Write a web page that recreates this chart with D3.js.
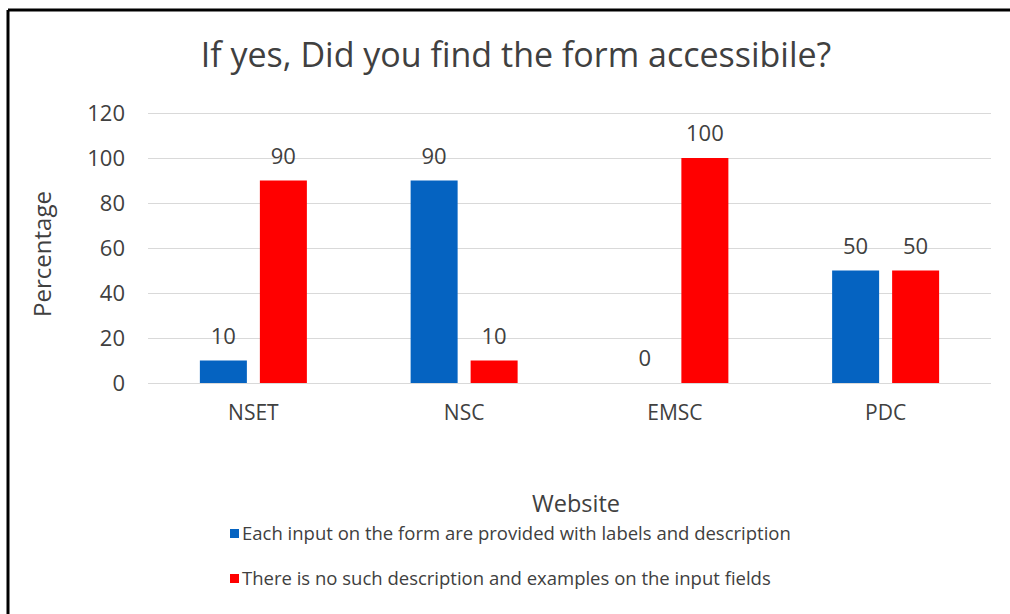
<!DOCTYPE html>
<html>
<head>
<meta charset="utf-8">
<script src="https://cdn.jsdelivr.net/npm/d3@7"></script>
<style>
  html, body { margin: 0; padding: 0; background: #fff; }
  svg { display: block; }
  text { font-family: "Open Sans", "Noto Sans", sans-serif; fill: #404040; }
</style>
</head>
<body>
<svg id="chart" width="1010" height="614"></svg>
<script>
const categories = ["NSET", "NSC", "EMSC", "PDC"];
const seriesNames = [
  "Each input on the form are provided with labels and description",
  "There is no such description and examples on the input fields"
];
const labelledValues = [10, 90, 0, 50];
const undescribedValues = [90, 10, 100, 50];
const yTicks = [0, 20, 40, 60, 80, 100, 120];
const seriesColors = ["#0563C1", "#FF0000"];

const svg = d3.select("#chart");
const W = 1010, H = 614;
const plot = { left: 148, right: 991, top: 113, bottom: 383 };

// frame along the top and left edges
svg.append("rect").attr("x", 0).attr("y", 0).attr("width", W).attr("height", H).attr("fill", "#fff");
svg.append("line").attr("x1", 8).attr("x2", W).attr("y1", 10).attr("y2", 10)
  .attr("stroke", "#000").attr("stroke-width", 3);
svg.append("line").attr("x1", 8).attr("x2", 8).attr("y1", 10).attr("y2", H)
  .attr("stroke", "#000").attr("stroke-width", 3);

const x = d3.scaleBand().domain(categories).range([plot.left, plot.right]);
const y = d3.scaleLinear().domain([0, 120]).range([plot.bottom, plot.top]);

const barW = 47, barGap = 13;
const series = [labelledValues, undescribedValues];

// gridlines
const grid = svg.append("g").attr("class", "grid");
grid.selectAll("line").data(yTicks).join("line")
  .attr("x1", plot.left).attr("x2", plot.right)
  .attr("y1", d => Math.round(y(d)) + 0.5).attr("y2", d => Math.round(y(d)) + 0.5)
  .attr("stroke", "#d9d9d9").attr("stroke-width", 1);

// y axis labels
const yAxis = d3.axisLeft(y).tickValues(yTicks).tickSize(0).tickPadding(23);
const gy = svg.append("g").attr("transform", `translate(${plot.left},0)`).call(yAxis);
gy.select(".domain").remove();
gy.selectAll("text").style("font-size", "22px").attr("fill", "#404040")
  .style("font-family", "'Open Sans', sans-serif");

// x axis labels
const xAxis = d3.axisBottom(x).tickSize(0).tickPadding(22);
const gx = svg.append("g").attr("transform", `translate(0,${plot.bottom})`).call(xAxis);
gx.select(".domain").remove();
gx.selectAll("text").style("font-size", "21px").attr("fill", "#404040")
  .style("font-family", "'Open Sans', sans-serif");

// bars and value labels
series.forEach((vals, si) => {
  const offset = si === 0 ? -(barGap / 2 + barW) : barGap / 2;
  const g = svg.append("g");
  g.selectAll("rect").data(categories).join("rect")
    .attr("x", (c) => x(c) + x.bandwidth() / 2 + offset)
    .attr("width", barW)
    .attr("y", (c, i) => y(vals[i]))
    .attr("height", (c, i) => y(0) - y(vals[i]))
    .attr("fill", seriesColors[si]);
  g.selectAll("text").data(categories).join("text")
    .attr("x", (c) => x(c) + x.bandwidth() / 2 + offset + barW / 2)
    .attr("y", (c, i) => y(vals[i]) - 17)
    .attr("text-anchor", "middle")
    .style("font-size", "22px")
    .text((c, i) => vals[i]);
});

// titles
svg.append("text").attr("x", 516).attr("y", 67).attr("text-anchor", "middle")
  .style("font-size", "34px").text("If yes, Did you find the form accessibile?");
svg.append("text").attr("transform", "translate(51,254) rotate(-90)")
  .attr("text-anchor", "middle").style("font-size", "24px").text("Percentage");
svg.append("text").attr("x", 576).attr("y", 512).attr("text-anchor", "middle")
  .style("font-size", "23.5px").text("Website");

// legend
const legend = svg.append("g");
const legendY = [534, 579];
seriesNames.forEach((name, i) => {
  legend.append("rect").attr("x", 230).attr("y", legendY[i] - 5).attr("width", 9).attr("height", 9)
    .attr("fill", seriesColors[i]);
  legend.append("text").attr("x", 242).attr("y", legendY[i] + 6)
    .style("font-size", "18.5px").text(name);
});
</script>
</body>
</html>
